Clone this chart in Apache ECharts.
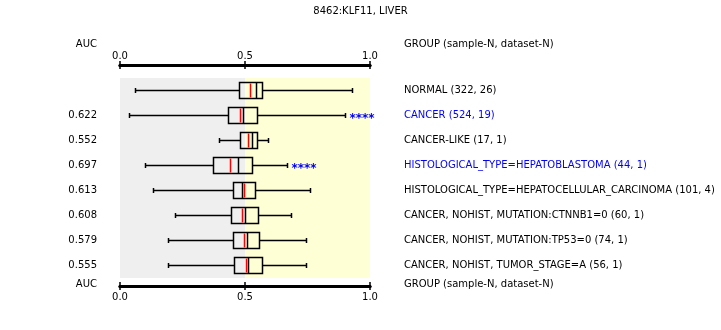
<!DOCTYPE html>
<html><head><meta charset="utf-8">
<script src="https://cdn.jsdelivr.net/npm/echarts@6/dist/echarts.min.js"></script>
<style>html,body{margin:0;padding:0;background:#fff}#c{width:721px;height:330px}</style>
</head><body><div id="c"></div>
<script>
const title = '8462:KLF11, LIVER';
const categories = [
  'NORMAL (322, 26)',
  'CANCER (524, 19)',
  'CANCER-LIKE (17, 1)',
  'HISTOLOGICAL_TYPE=HEPATOBLASTOMA (44, 1)',
  'HISTOLOGICAL_TYPE=HEPATOCELLULAR_CARCINOMA (101, 4)',
  'CANCER, NOHIST, MUTATION:CTNNB1=0 (60, 1)',
  'CANCER, NOHIST, MUTATION:TP53=0 (74, 1)',
  'CANCER, NOHIST, TUMOR_STAGE=A (56, 1)'
];
const aucLabels = ['', '0.622', '0.552', '0.697', '0.613', '0.608', '0.579', '0.555'];
const whiskerLow  = [0.063, 0.039, 0.396, 0.103, 0.135, 0.221, 0.192, 0.192];
const q1          = [0.476, 0.432, 0.482, 0.372, 0.452, 0.444, 0.452, 0.456];
const median      = [0.544, 0.492, 0.528, 0.472, 0.490, 0.500, 0.508, 0.513];
const q3          = [0.568, 0.548, 0.548, 0.528, 0.540, 0.552, 0.556, 0.568];
const whiskerHigh = [0.929, 0.901, 0.594, 0.670, 0.761, 0.685, 0.745, 0.745];
const redLine     = [0.520, 0.480, 0.512, 0.440, 0.496, 0.488, 0.496, 0.505];
const significance = ['', '****', '', '****', '', '', '', ''];
const highlighted  = [false, true, false, true, false, false, false, false];
const xTicks = [0, 0.5, 1];

const FONT = 'DejaVu Sans';
const FS = 10;
const BLUE = '#0000ff';

const boxData = categories.map((c, i) => [i, whiskerLow[i], q1[i], median[i], q3[i], whiskerHigh[i], redLine[i]]);

function crisp(v) { return Math.round(v - 0.5) + 0.5; }

function renderBox(params, api) {
  const i = api.value(0);
  const yc = crisp(api.coord([0, i])[1]);
  const px = v => crisp(api.coord([api.value(v), i])[0]);
  const lo = px(1), a = px(2), m = px(3), b = px(4), hi = px(5), r = px(6);
  const hh = 8, cap = 2.5;
  const W = 1.5;
  const ls = { stroke: '#000', lineWidth: W };
  const children = [
    { type: 'line', shape: { x1: lo, y1: yc, x2: a, y2: yc }, style: ls },
    { type: 'line', shape: { x1: b, y1: yc, x2: hi, y2: yc }, style: ls },
    { type: 'line', shape: { x1: lo, y1: yc - cap, x2: lo, y2: yc + cap }, style: ls },
    { type: 'line', shape: { x1: hi, y1: yc - cap, x2: hi, y2: yc + cap }, style: ls },
    { type: 'rect', shape: { x: a, y: yc - hh, width: b - a, height: 2 * hh }, style: { fill: 'none', stroke: '#000', lineWidth: W } },
    { type: 'line', shape: { x1: m, y1: yc - hh, x2: m, y2: yc + hh }, style: ls },
    { type: 'line', shape: { x1: r, y1: yc - hh + 1, x2: r, y2: yc + hh - 1 }, style: { stroke: '#ff0000', lineWidth: W } }
  ];
  if (significance[i]) {
    children.push({ type: 'text', style: { text: significance[i], x: hi + 4, y: yc + 3, fill: BLUE,
      font: 'bold 12px ' + FONT, textVerticalAlign: 'middle', textAlign: 'left' } });
  }
  return { type: 'group', children };
}

function xAxisDef(pos, offset, labels, inside, margin) {
  return {
    type: 'value', position: pos, offset: offset, min: 0, max: 1, interval: 0.5,
    axisLine: { show: true, lineStyle: { color: '#000', width: 3 } },
    axisTick: { show: true, inside: inside, length: 4, lineStyle: { color: '#000', width: 1.5 } },
    axisLabel: { show: labels, margin: margin, color: '#000', fontFamily: FONT, fontSize: FS,
      formatter: v => xTicks.indexOf(v) >= 0 ? v.toFixed(1) : '' },
    splitLine: { show: false }
  };
}

const chart = echarts.init(document.getElementById('c'), null, { renderer: 'canvas' });
chart.setOption({
  animation: false,
  backgroundColor: '#fff',
  grid: { left: 120, right: 351, top: 78, height: 200, containLabel: false },
  xAxis: [
    xAxisDef('top', 13, true, false, 4),
    xAxisDef('top', 13, false, true, 4),
    xAxisDef('bottom', 8, true, false, 6),
    xAxisDef('bottom', 8, false, true, 6)
  ],
  yAxis: [
    { type: 'category', data: categories, inverse: true, position: 'right',
      axisLine: { show: false }, axisTick: { show: false }, splitLine: { show: false },
      axisLabel: { margin: 34, fontFamily: FONT, fontSize: FS,
        color: (v, i) => highlighted[i] ? BLUE : '#000' } },
    { type: 'category', data: aucLabels, inverse: true, position: 'left',
      axisLine: { show: false }, axisTick: { show: false }, splitLine: { show: false },
      axisLabel: { margin: 23, fontFamily: FONT, fontSize: FS, color: '#000', interval: 0 } }
  ],
  graphic: [
    { type: 'text', left: 'center', top: 6, style: { text: title, font: FS + 'px ' + FONT, fill: '#000' } },
    { type: 'text', x: 97, y: 44, style: { text: 'AUC', font: FS + 'px ' + FONT, fill: '#000', textAlign: 'right', textVerticalAlign: 'middle' } },
    { type: 'text', x: 404, y: 44, style: { text: 'GROUP (sample-N, dataset-N)', font: FS + 'px ' + FONT, fill: '#000', textVerticalAlign: 'middle' } },
    { type: 'text', x: 97, y: 284, style: { text: 'AUC', font: FS + 'px ' + FONT, fill: '#000', textAlign: 'right', textVerticalAlign: 'middle' } },
    { type: 'text', x: 404, y: 284, style: { text: 'GROUP (sample-N, dataset-N)', font: FS + 'px ' + FONT, fill: '#000', textVerticalAlign: 'middle' } }
  ],
  series: [
    { type: 'line', data: [], xAxisIndex: 0, yAxisIndex: 0, z: 1, silent: true,
      markArea: { silent: true, data: [
        [{ xAxis: 0, itemStyle: { color: '#efefef' } }, { xAxis: 0.5 }],
        [{ xAxis: 0.5, itemStyle: { color: '#ffffd5' } }, { xAxis: 1 }]
      ] } },
    { type: 'custom', xAxisIndex: 0, yAxisIndex: 0, z: 5, renderItem: renderBox,
      encode: { y: 0, x: [1, 2, 3, 4, 5, 6] }, data: boxData }
  ]
});
</script></body></html>
